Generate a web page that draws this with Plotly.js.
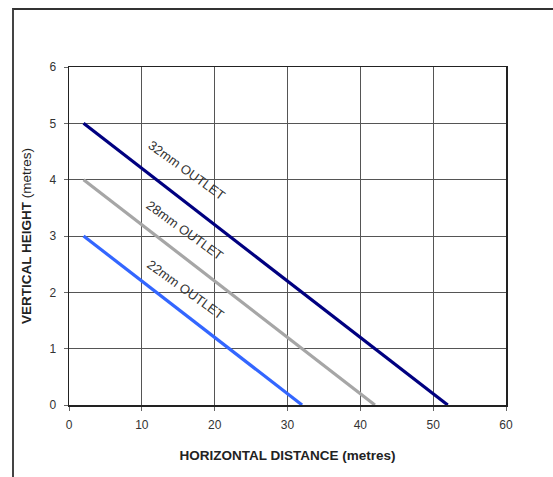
<!DOCTYPE html>
<html>
<head>
<meta charset="utf-8">
<script src="https://cdn.plot.ly/plotly-3.0.1.min.js"></script>
<style>
html,body{margin:0;padding:0;background:#fff;}
#chart{width:553px;height:477px;}
#frame{position:absolute;left:12px;top:8px;width:600px;height:600px;border-left:2px solid #444;border-top:2px solid #333;pointer-events:none;}
</style>
</head>
<body>
<div id="chart"></div>
<div id="frame"></div>
<script>
// data
const seriesNames = ["32mm OUTLET", "28mm OUTLET", "22mm OUTLET"];
const distance32 = [2, 52];
const height32 = [5, 0];
const distance28 = [2, 42];
const height28 = [4, 0];
const distance22 = [2, 32];
const height22 = [3, 0];
const labelX = [16.2, 15.9, 16.0];
const labelY = [4.16, 3.09, 2.05];
const xTicks = [0, 10, 20, 30, 40, 50, 60];
const yTicks = [0, 1, 2, 3, 4, 5, 6];

const colors = ["#000080", "#a6a6a6", "#3366ff"];
const xs = [distance32, distance28, distance22];
const ys = [height32, height28, height22];

const traces = xs.map((x, i) => ({
  x: x, y: ys[i], mode: "lines", type: "scatter", name: seriesNames[i],
  line: {color: colors[i], width: 3.2}, hoverinfo: "skip"
}));

const annotations = seriesNames.map((t, i) => ({
  x: labelX[i], y: labelY[i], xref: "x", yref: "y", text: t,
  showarrow: false, textangle: 36,
  font: {family: "Liberation Sans, Arial, sans-serif", size: 13, color: "#333"}
}));

const layout = {
  width: 553, height: 477,
  margin: {l: 68.5, r: 47, t: 67, b: 71.5},
  paper_bgcolor: "#fff", plot_bgcolor: "#fff",
  showlegend: false,
  font: {family: "Liberation Sans, Arial, sans-serif", size: 12, color: "#333"},
  xaxis: {
    range: [0, 60], tickvals: xTicks, ticktext: xTicks.map(String),
    showgrid: true, gridcolor: "#555", gridwidth: 1,
    zeroline: false, showline: true, linecolor: "#222", linewidth: 1.5, mirror: true,
    ticks: "outside", ticklen: 4, tickcolor: "#666", ticklabelstandoff: 4,
    tickfont: {size: 12, color: "#333"},
    title: {text: "<b>HORIZONTAL DISTANCE (metres)</b>", font: {size: 13.5, color: "#222"}, standoff: 19}
  },
  yaxis: {
    range: [0, 6], tickvals: yTicks, ticktext: yTicks.map(String),
    showgrid: true, gridcolor: "#555", gridwidth: 1,
    zeroline: false, showline: true, linecolor: "#222", linewidth: 1.5, mirror: true,
    ticks: "outside", ticklen: 4, tickcolor: "#666", ticklabelstandoff: 5,
    tickfont: {size: 12, color: "#333"},
    title: {text: "<b>VERTICAL HEIGHT</b> (metres)", font: {size: 13.5, color: "#222"}, standoff: 14}
  },
  annotations: annotations
};

Plotly.newPlot("chart", traces, layout, {displayModeBar: false, staticPlot: true});
</script>
</body>
</html>
